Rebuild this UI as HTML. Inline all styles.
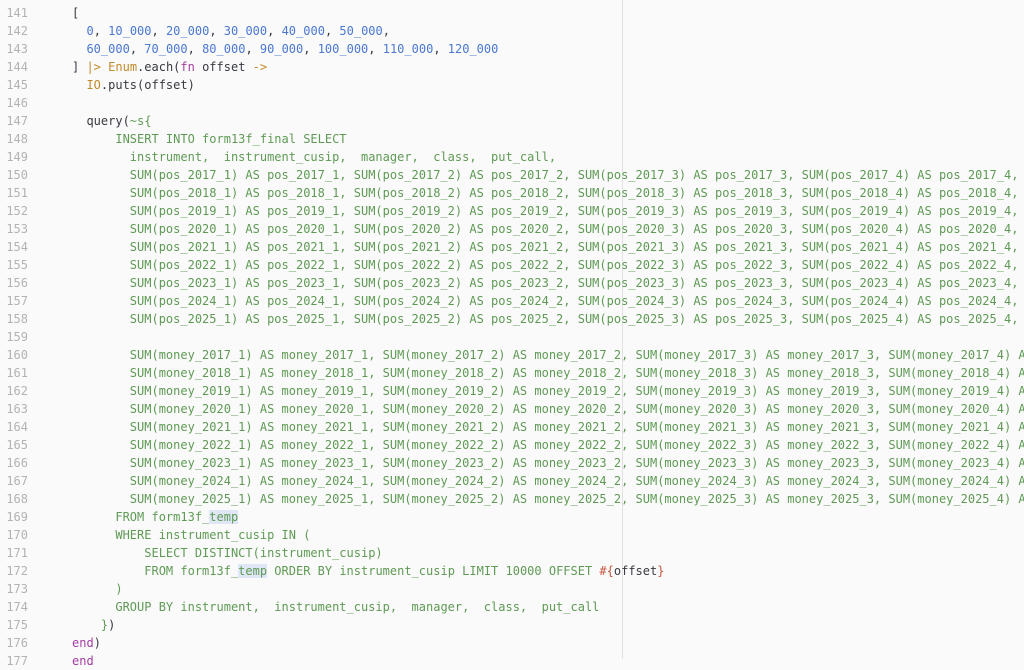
<!DOCTYPE html>
<html><head><meta charset="utf-8"><style>
html,body{margin:0;padding:0;}
body{width:1024px;height:659px;overflow:hidden;background:#fafafa;position:relative;font-family:"DejaVu Sans Mono","Liberation Mono",monospace;font-size:12px;}
.l{position:absolute;left:0;height:18px;line-height:18px;white-space:pre;width:1024px;}
.n{position:absolute;left:0;width:28px;text-align:right;color:#b3b3b3;}
.c{position:absolute;left:72px;color:#383a42;}
.g{color:#5f9a55}.b{color:#4a78d0}.o{color:#c18a2a}.p{color:#a33ea1}.r{color:#c8553d}
.h{background:#dfe6f5}
#ruler{position:absolute;left:622px;top:0;width:1px;height:659px;background:#e2e2e2;}
</style></head><body>
<div id="ruler"></div>
<div class="l" style="top:4px"><span class="n">141</span><span class="c">[</span></div>
<div class="l" style="top:22px"><span class="n">142</span><span class="c">  <span class="b">0</span>, <span class="b">10_000</span>, <span class="b">20_000</span>, <span class="b">30_000</span>, <span class="b">40_000</span>, <span class="b">50_000</span>,</span></div>
<div class="l" style="top:40px"><span class="n">143</span><span class="c">  <span class="b">60_000</span>, <span class="b">70_000</span>, <span class="b">80_000</span>, <span class="b">90_000</span>, <span class="b">100_000</span>, <span class="b">110_000</span>, <span class="b">120_000</span></span></div>
<div class="l" style="top:58px"><span class="n">144</span><span class="c">] <span class="o">|&gt;</span> <span class="o">Enum</span>.each(<span class="p">fn</span> offset <span class="o">-&gt;</span></span></div>
<div class="l" style="top:76px"><span class="n">145</span><span class="c">  <span class="o">IO</span>.puts(offset)</span></div>
<div class="l" style="top:94px"><span class="n">146</span></div>
<div class="l" style="top:112px"><span class="n">147</span><span class="c">  query(<span class="g">~s{</span></span></div>
<div class="l" style="top:130px"><span class="n">148</span><span class="c g">      INSERT INTO form13f_final SELECT</span></div>
<div class="l" style="top:148px"><span class="n">149</span><span class="c g">        instrument,  instrument_cusip,  manager,  class,  put_call,</span></div>
<div class="l" style="top:166px"><span class="n">150</span><span class="c g">        SUM(pos_2017_1) AS pos_2017_1, SUM(pos_2017_2) AS pos_2017_2, SUM(pos_2017_3) AS pos_2017_3, SUM(pos_2017_4) AS pos_2017_4,</span></div>
<div class="l" style="top:184px"><span class="n">151</span><span class="c g">        SUM(pos_2018_1) AS pos_2018_1, SUM(pos_2018_2) AS pos_2018_2, SUM(pos_2018_3) AS pos_2018_3, SUM(pos_2018_4) AS pos_2018_4,</span></div>
<div class="l" style="top:202px"><span class="n">152</span><span class="c g">        SUM(pos_2019_1) AS pos_2019_1, SUM(pos_2019_2) AS pos_2019_2, SUM(pos_2019_3) AS pos_2019_3, SUM(pos_2019_4) AS pos_2019_4,</span></div>
<div class="l" style="top:220px"><span class="n">153</span><span class="c g">        SUM(pos_2020_1) AS pos_2020_1, SUM(pos_2020_2) AS pos_2020_2, SUM(pos_2020_3) AS pos_2020_3, SUM(pos_2020_4) AS pos_2020_4,</span></div>
<div class="l" style="top:238px"><span class="n">154</span><span class="c g">        SUM(pos_2021_1) AS pos_2021_1, SUM(pos_2021_2) AS pos_2021_2, SUM(pos_2021_3) AS pos_2021_3, SUM(pos_2021_4) AS pos_2021_4,</span></div>
<div class="l" style="top:256px"><span class="n">155</span><span class="c g">        SUM(pos_2022_1) AS pos_2022_1, SUM(pos_2022_2) AS pos_2022_2, SUM(pos_2022_3) AS pos_2022_3, SUM(pos_2022_4) AS pos_2022_4,</span></div>
<div class="l" style="top:274px"><span class="n">156</span><span class="c g">        SUM(pos_2023_1) AS pos_2023_1, SUM(pos_2023_2) AS pos_2023_2, SUM(pos_2023_3) AS pos_2023_3, SUM(pos_2023_4) AS pos_2023_4,</span></div>
<div class="l" style="top:292px"><span class="n">157</span><span class="c g">        SUM(pos_2024_1) AS pos_2024_1, SUM(pos_2024_2) AS pos_2024_2, SUM(pos_2024_3) AS pos_2024_3, SUM(pos_2024_4) AS pos_2024_4,</span></div>
<div class="l" style="top:310px"><span class="n">158</span><span class="c g">        SUM(pos_2025_1) AS pos_2025_1, SUM(pos_2025_2) AS pos_2025_2, SUM(pos_2025_3) AS pos_2025_3, SUM(pos_2025_4) AS pos_2025_4,</span></div>
<div class="l" style="top:328px"><span class="n">159</span></div>
<div class="l" style="top:346px"><span class="n">160</span><span class="c g">        SUM(money_2017_1) AS money_2017_1, SUM(money_2017_2) AS money_2017_2, SUM(money_2017_3) AS money_2017_3, SUM(money_2017_4) AS</span></div>
<div class="l" style="top:364px"><span class="n">161</span><span class="c g">        SUM(money_2018_1) AS money_2018_1, SUM(money_2018_2) AS money_2018_2, SUM(money_2018_3) AS money_2018_3, SUM(money_2018_4) AS</span></div>
<div class="l" style="top:382px"><span class="n">162</span><span class="c g">        SUM(money_2019_1) AS money_2019_1, SUM(money_2019_2) AS money_2019_2, SUM(money_2019_3) AS money_2019_3, SUM(money_2019_4) AS</span></div>
<div class="l" style="top:400px"><span class="n">163</span><span class="c g">        SUM(money_2020_1) AS money_2020_1, SUM(money_2020_2) AS money_2020_2, SUM(money_2020_3) AS money_2020_3, SUM(money_2020_4) AS</span></div>
<div class="l" style="top:418px"><span class="n">164</span><span class="c g">        SUM(money_2021_1) AS money_2021_1, SUM(money_2021_2) AS money_2021_2, SUM(money_2021_3) AS money_2021_3, SUM(money_2021_4) AS</span></div>
<div class="l" style="top:436px"><span class="n">165</span><span class="c g">        SUM(money_2022_1) AS money_2022_1, SUM(money_2022_2) AS money_2022_2, SUM(money_2022_3) AS money_2022_3, SUM(money_2022_4) AS</span></div>
<div class="l" style="top:454px"><span class="n">166</span><span class="c g">        SUM(money_2023_1) AS money_2023_1, SUM(money_2023_2) AS money_2023_2, SUM(money_2023_3) AS money_2023_3, SUM(money_2023_4) AS</span></div>
<div class="l" style="top:472px"><span class="n">167</span><span class="c g">        SUM(money_2024_1) AS money_2024_1, SUM(money_2024_2) AS money_2024_2, SUM(money_2024_3) AS money_2024_3, SUM(money_2024_4) AS</span></div>
<div class="l" style="top:490px"><span class="n">168</span><span class="c g">        SUM(money_2025_1) AS money_2025_1, SUM(money_2025_2) AS money_2025_2, SUM(money_2025_3) AS money_2025_3, SUM(money_2025_4) AS</span></div>
<div class="l" style="top:508px"><span class="n">169</span><span class="c g">      FROM form13f_<span class="h">temp</span></span></div>
<div class="l" style="top:526px"><span class="n">170</span><span class="c g">      WHERE instrument_cusip IN (</span></div>
<div class="l" style="top:544px"><span class="n">171</span><span class="c g">          SELECT DISTINCT(instrument_cusip)</span></div>
<div class="l" style="top:562px"><span class="n">172</span><span class="c g">          FROM form13f_<span class="h">temp</span> ORDER BY instrument_cusip LIMIT 10000 OFFSET <span class="r">#{</span><span style="color:#383a42">offset</span><span class="r">}</span></span></div>
<div class="l" style="top:580px"><span class="n">173</span><span class="c g">      )</span></div>
<div class="l" style="top:598px"><span class="n">174</span><span class="c g">      GROUP BY instrument,  instrument_cusip,  manager,  class,  put_call</span></div>
<div class="l" style="top:616px"><span class="n">175</span><span class="c">    <span class="g">}</span>)</span></div>
<div class="l" style="top:634px"><span class="n">176</span><span class="c"><span class="p">end</span>)</span></div>
<div class="l" style="top:652px"><span class="n">177</span><span class="c"><span class="p">end</span></span></div>
</body></html>
